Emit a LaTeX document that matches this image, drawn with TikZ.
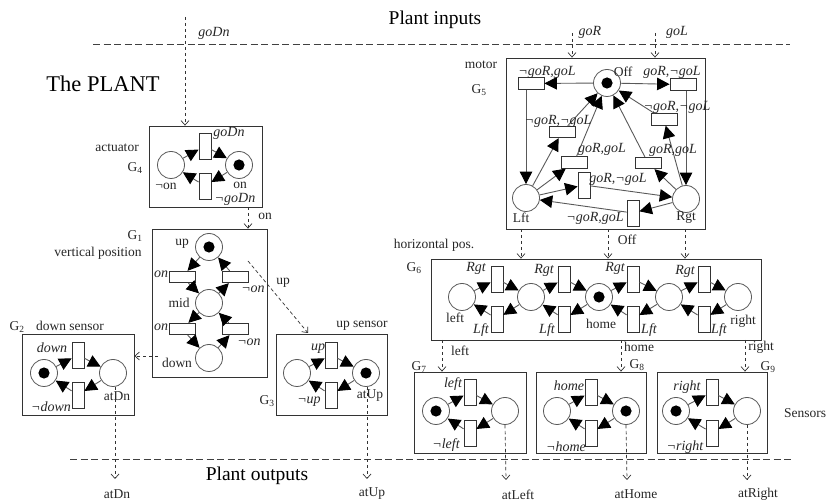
\documentclass[tikz,border=0pt]{standalone}
\usepackage{fontspec}
\setmainfont{Liberation Serif}
\usetikzlibrary{arrows.meta,positioning}
\tikzset{
placenode/.style={circle,draw=black!65,line width=0.8pt,fill=white,minimum size=27pt,inner sep=0pt},
tokplace/.style={placenode,path picture={\fill[black] (path picture bounding box.center) circle (5.6pt);}},
transh/.style={rectangle,draw=black!80,line width=0.8pt,fill=white,minimum width=26pt,minimum height=11.5pt,inner sep=0pt},
transv/.style={rectangle,draw=black!80,line width=0.8pt,fill=white,minimum width=12pt,minimum height=26pt,inner sep=0pt},
framebox/.style={rectangle,draw=black!80,line width=0.8pt,inner sep=0pt},
arcarr/.style={draw=black!65,line width=0.9pt,-{Triangle[length=12.5pt,width=12.5pt,color=black]}},
sigarr/.style={draw=black!80,line width=0.7pt,dash pattern=on 3.5pt off 2.5pt,-{Straight Barb[length=4.5pt,width=8pt,line width=0.7pt]}},
limitline/.style={draw=black!75,line width=0.8pt,dash pattern=on 7pt off 3.5pt},
txt/.style={font=\fontsize{13.5}{15}\selectfont,inner sep=0pt,text=black!85},
evt/.style={font=\fontsize{14}{16}\selectfont\itshape,inner sep=0pt,text=black!85},
headtxt/.style={font=\fontsize{19.5}{22}\selectfont,inner sep=0pt}
}
\begin{document}
\begin{tikzpicture}[x=1pt,y=-1pt]
\useasboundingbox (0,0) rectangle (828,502);
\coordinate (inl) at (93,44);
\coordinate (inr) at (790,44);
\coordinate (outl) at (70,459);
\coordinate (outr) at (792,459);
\draw[limitline] (inl) -- (inr);
\draw[limitline] (outl) -- (outr);
\node[headtxt] (titlein) at (435,20) {Plant inputs};
\node[headtxt] (titleout) at (257,476) {Plant outputs};
\node[font=\fontsize{22.5}{26}\selectfont,inner sep=0pt] (titleplant) at (103,84) {The PLANT};
\node[txt] (titlesens) at (805,413) {Sensors};

% frames
\node[framebox,minimum width=113pt,minimum height=81pt] (g4) at (205.5,166.5) {};
\node[framebox,minimum width=115pt,minimum height=148pt] (g1) at (209.5,303) {};
\node[framebox,minimum width=112pt,minimum height=81pt] (g2) at (78,374.5) {};
\node[framebox,minimum width=111pt,minimum height=81pt] (g3) at (331.5,374.5) {};
\node[framebox,minimum width=199pt,minimum height=171pt] (g5) at (605.5,143.5) {};
\node[framebox,minimum width=330pt,minimum height=81pt] (g6) at (596,299.5) {};
\node[framebox,minimum width=112pt,minimum height=81pt] (g7) at (470,412.5) {};
\node[framebox,minimum width=110pt,minimum height=81pt] (g8) at (591,412.5) {};
\node[framebox,minimum width=110pt,minimum height=81pt] (g9) at (712,412.5) {};

% actuator
\node[placenode] (aoff) at (171,165) {};
\node[tokplace] (aon) at (239,165) {};
\node[transv] (ta1) at (205,146) {};
\node[transv] (ta2) at (205,186) {};
\draw[arcarr] (aoff) -- (ta1);
\draw[arcarr] (ta1) -- (aon);
\draw[arcarr] (aon) -- (ta2);
\draw[arcarr] (ta2) -- (aoff);
\node[evt] (la1) at (229,133) {goDn};
\node[evt] (la2) at (235,199) {¬goDn};
\node[txt] (la3) at (166,186) {¬on};
\node[txt] (la4) at (240,185) {on};
\node[txt] (la5) at (117,148) {actuator};
\node[txt] (la6) at (135,168) {G\textsubscript{4}};

% vertical position
\node[tokplace] (vup) at (209,247) {};
\node[placenode] (vmid) at (209,303) {};
\node[placenode] (vdown) at (209,358) {};
\node[transh] (tv1) at (182,277) {};
\node[transh] (tv2) at (235,277) {};
\node[transh] (tv3) at (182,329) {};
\node[transh] (tv4) at (235,329) {};
\draw[arcarr] (vup) -- (tv1);
\draw[arcarr] (tv1) -- (vmid);
\draw[arcarr] (vmid) -- (tv2);
\draw[arcarr] (tv2) -- (vup);
\draw[arcarr] (vmid) -- (tv3);
\draw[arcarr] (tv3) -- (vdown);
\draw[arcarr] (vdown) -- (tv4);
\draw[arcarr] (tv4) -- (vmid);
\node[evt] (lv1) at (161,274) {on};
\node[evt] (lv2) at (161,327) {on};
\node[evt] (lv3) at (253,289) {¬on};
\node[evt] (lv4) at (249,342) {¬on};
\node[txt] (lv5) at (182,244) {up};
\node[txt] (lv6) at (179,303) {mid};
\node[txt] (lv7) at (177,363) {down};
\node[txt] (lv8) at (135,236) {G\textsubscript{1}};
\node[txt] (lv9) at (98,253) {vertical position};

% down sensor
\node[tokplace] (ds1) at (44,373) {};
\node[placenode] (ds2) at (113,373) {};
\node[transv] (td1) at (78,355) {};
\node[transv] (td2) at (78,395) {};
\draw[arcarr] (ds1) -- (td1);
\draw[arcarr] (td1) -- (ds2);
\draw[arcarr] (ds2) -- (td2);
\draw[arcarr] (td2) -- (ds1);
\node[evt] (ld1) at (52,348) {down};
\node[evt] (ld2) at (51,407) {¬down};
\node[txt] (ld3) at (117,396) {atDn};
\node[txt] (ld4) at (17,327) {G\textsubscript{2}};
\node[txt] (ld5) at (70,326) {down sensor};

% up sensor
\node[placenode] (us1) at (297,373) {};
\node[tokplace] (us2) at (366,373) {};
\node[transv] (tu1) at (331,355) {};
\node[transv] (tu2) at (331,395) {};
\draw[arcarr] (us1) -- (tu1);
\draw[arcarr] (tu1) -- (us2);
\draw[arcarr] (us2) -- (tu2);
\draw[arcarr] (tu2) -- (us1);
\node[evt] (lu1) at (318,349) {up};
\node[evt] (lu2) at (309,402) {¬up};
\node[txt] (lu3) at (370,396) {atUp};
\node[txt] (lu4) at (267,401) {G\textsubscript{3}};
\node[txt] (lu5) at (362,326) {up sensor};

% motor
\node[tokplace] (moff) at (607,83) {};
\node[placenode] (mlft) at (526,198) {};
\node[placenode] (mrgt) at (686,199) {};
\node[transh] (tm1) at (531,83.5) {};
\node[transh] (tm2) at (683,84.5) {};
\node[transh] (tm3) at (562,132) {};
\node[transh] (tm4) at (574,162.5) {};
\node[transh] (tm5) at (648,163) {};
\node[transh] (tm6) at (664,119.5) {};
\node[transv] (tm7) at (584,185) {};
\node[transv] (tm8) at (633,213) {};
\draw[arcarr] (moff) -- (tm1);
\draw[arcarr] (mlft |- tm1.south) -- (mlft);
\draw[arcarr] (moff) -- (tm2);
\draw[arcarr] (mrgt |- tm2.south) -- (mrgt);
\draw[arcarr] (mlft) -- (tm3);
\draw[arcarr] (tm3) -- (moff);
\draw[arcarr] (mlft) -- (tm4);
\draw[arcarr] (tm4) -- (moff);
\draw[arcarr] (mlft) -- (tm7);
\draw[arcarr] (tm7) -- (mrgt);
\draw[arcarr] (mrgt) -- (tm5);
\draw[arcarr] (tm5) -- (moff);
\draw[arcarr] (mrgt) -- (tm6);
\draw[arcarr] (tm6) -- (moff);
\draw[arcarr] (mrgt) -- (tm8);
\draw[arcarr] (tm8) -- (mlft);
\node[evt] (lm1) at (547,72) {¬goR,goL};
\node[evt] (lm2) at (672,72) {goR,¬goL};
\node[evt] (lm3) at (558,121) {¬goR,¬goL};
\node[evt] (lm4) at (677,107) {¬goR,¬goL};
\node[evt] (lm5) at (602,149) {goR,goL};
\node[evt] (lm6) at (673,150) {goR,goL};
\node[evt] (lm7) at (618,179) {goR,¬goL};
\node[evt] (lm8) at (595,218) {¬goR,goL};
\node[txt] (lm9) at (623,72) {Off};
\node[txt] (lm10) at (521,218) {Lft};
\node[txt] (lm11) at (686,218) {Rgt};
\node[txt] (lm12) at (481,65) {motor};
\node[txt] (lm13) at (479,90) {G\textsubscript{5}};

% horizontal position
\node[placenode] (hp1) at (462,297) {};
\node[placenode] (hp2) at (531,297) {};
\node[tokplace] (hp3) at (599,297) {};
\node[placenode] (hp4) at (669,297) {};
\node[placenode] (hp5) at (738,297) {};
\node[transv] (th1) at (497,279) {};
\node[transv] (th2) at (564,279) {};
\node[transv] (th3) at (633,279) {};
\node[transv] (th4) at (704,279) {};
\node[transv] (th5) at (497,319) {};
\node[transv] (th6) at (564,319) {};
\node[transv] (th7) at (633,319) {};
\node[transv] (th8) at (704,319) {};
\draw[arcarr] (hp1) -- (th1);
\draw[arcarr] (th1) -- (hp2);
\draw[arcarr] (hp2) -- (th2);
\draw[arcarr] (th2) -- (hp3);
\draw[arcarr] (hp3) -- (th3);
\draw[arcarr] (th3) -- (hp4);
\draw[arcarr] (hp4) -- (th4);
\draw[arcarr] (th4) -- (hp5);
\draw[arcarr] (hp5) -- (th8);
\draw[arcarr] (th8) -- (hp4);
\draw[arcarr] (hp4) -- (th7);
\draw[arcarr] (th7) -- (hp3);
\draw[arcarr] (hp3) -- (th6);
\draw[arcarr] (th6) -- (hp2);
\draw[arcarr] (hp2) -- (th5);
\draw[arcarr] (th5) -- (hp1);
\node[evt] (lh1) at (476,268) {Rgt};
\node[evt] (lh2) at (544,270) {Rgt};
\node[evt] (lh3) at (615,268) {Rgt};
\node[evt] (lh4) at (685,271) {Rgt};
\node[evt] (lh5) at (481,330) {Lft};
\node[evt] (lh6) at (547,330) {Lft};
\node[evt] (lh7) at (649,330) {Lft};
\node[evt] (lh8) at (719,330) {Lft};
\node[txt] (lh9) at (455,318) {left};
\node[txt] (lh10) at (601,324) {home};
\node[txt] (lh11) at (743,321) {right};
\node[txt] (lh12) at (434,245) {horizontal pos.};
\node[txt] (lh13) at (414,268) {G\textsubscript{6}};

% left, home and right sensors
\node[tokplace] (sl1) at (436,411) {};
\node[placenode] (sl2) at (505,411) {};
\node[transv] (ts1) at (470,392) {};
\node[transv] (ts2) at (470,433) {};
\draw[arcarr] (sl1) -- (ts1);
\draw[arcarr] (ts1) -- (sl2);
\draw[arcarr] (sl2) -- (ts2);
\draw[arcarr] (ts2) -- (sl1);
\node[placenode] (sh1) at (557,411) {};
\node[tokplace] (sh2) at (626,411) {};
\node[transv] (ts3) at (591,392) {};
\node[transv] (ts4) at (591,433) {};
\draw[arcarr] (sh1) -- (ts3);
\draw[arcarr] (ts3) -- (sh2);
\draw[arcarr] (sh2) -- (ts4);
\draw[arcarr] (ts4) -- (sh1);
\node[tokplace] (sr1) at (676,411) {};
\node[placenode] (sr2) at (747,411) {};
\node[transv] (ts5) at (712,392) {};
\node[transv] (ts6) at (712,433) {};
\draw[arcarr] (sr1) -- (ts5);
\draw[arcarr] (ts5) -- (sr2);
\draw[arcarr] (sr2) -- (ts6);
\draw[arcarr] (ts6) -- (sr1);
\node[evt] (ls1) at (453,384) {left};
\node[evt] (ls2) at (446,445) {¬left};
\node[evt] (ls3) at (569,386) {home};
\node[evt] (ls4) at (566,447) {¬home};
\node[evt] (ls5) at (687,387) {right};
\node[evt] (ls6) at (685,447) {¬right};
\node[txt] (ls7) at (419,367) {G\textsubscript{7}};
\node[txt] (ls8) at (637,365) {G\textsubscript{8}};
\node[txt] (ls9) at (768,367) {G\textsubscript{9}};

% signals between the nets
\coordinate (sgodn) at (185,17);
\coordinate (sgor) at (572,33);
\coordinate (sgol) at (655,33);
\node[evt] (lgodn) at (214,33) {goDn};
\node[evt] (lgor) at (590,32) {goR};
\node[evt] (lgol) at (677,32) {goL};
\draw[sigarr] (sgodn) -- (sgodn |- g4.north);
\draw[sigarr,line width=1pt] (sgor) -- (sgor |- g5.north);
\draw[sigarr] (sgol) -- (sgol |- g5.north);
\coordinate (son) at (248,207);
\node[txt] (lon) at (265,216) {on};
\draw[sigarr] (son) -- (son |- g1.north);
\coordinate (sdown) at (158,356);
\draw[sigarr] (sdown) -- (sdown -| g2.east);
\coordinate (supa) at (248,261);
\coordinate (supb) at (308,333);
\node[txt] (lup) at (283,283) {up};
\draw[sigarr] (supa) -- (supb);
\coordinate (sleft) at (521,229);
\coordinate (soff) at (608,229);
\coordinate (sright) at (685,229);
\node[txt] (loff) at (627,240) {Off};
\draw[sigarr] (sleft) -- (sleft |- g6.north);
\draw[sigarr] (soff) -- (soff |- g6.north);
\draw[sigarr] (sright) -- (sright |- g6.north);
\coordinate (sg7) at (442,340);
\coordinate (sg8) at (621,340);
\coordinate (sg9) at (745,340);
\node[txt] (lleft) at (460,351) {left};
\node[txt] (lhome) at (639,347) {home};
\node[txt] (lright) at (761,347) {right};
\draw[sigarr] (sg7) -- (sg7 |- g7.north);
\draw[sigarr] (sg8) -- (sg8 |- g8.north);
\draw[sigarr] (sg9) -- (sg9 |- g9.north);

% plant outputs
\node[txt] (oatdn) at (117,494.5) {atDn};
\node[txt] (oatup) at (372,494) {atUp};
\node[txt] (oatleft) at (518,494.5) {atLeft};
\node[txt] (oathome) at (636,494.5) {atHome};
\node[txt] (oatright) at (758,494.5) {atRight};
\coordinate (eatdn) at (115,479);
\coordinate (eatup) at (367,479);
\coordinate (eatleft) at (506,480);
\coordinate (eathome) at (627,480);
\coordinate (eatright) at (747,480);
\draw[sigarr] (ds2.south -| eatdn) -- (eatdn);
\draw[sigarr] (us2.south -| eatup) -- (eatup);
\draw[sigarr] (sl2.south) -- (eatleft);
\draw[sigarr] (sh2.south) -- (eathome);
\draw[sigarr] (sr2.south) -- (eatright);
\end{tikzpicture}
\end{document}
